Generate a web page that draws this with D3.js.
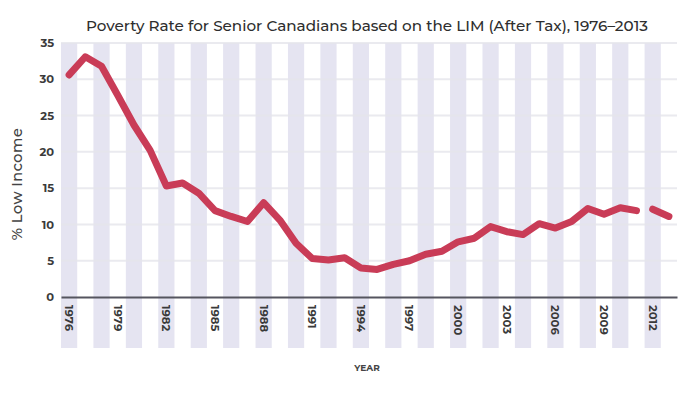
<!DOCTYPE html>
<html>
<head>
<meta charset="utf-8">
<script src="https://cdn.jsdelivr.net/npm/d3@7"></script>
<style>
  body { margin: 0; background: #fff; }
  text { font-family: "Montserrat", "Lato", "Open Sans", sans-serif; }
</style>
</head>
<body>
<script>
// years on the x axis
var years = d3.range(1976, 2014);
// % low income, first run 1976-2011, then 2012-2013 after the break
var yearsA = d3.range(1976, 2012);
var valuesA = [30.6, 33.1, 31.8, 27.8, 23.7, 20.2, 15.3, 15.7, 14.3, 11.9,
               11.1, 10.4, 13.0, 10.6, 7.4, 5.3, 5.1, 5.4, 4.0, 3.8,
               4.5, 5.0, 5.9, 6.3, 7.6, 8.1, 9.7, 9.0, 8.6, 10.1,
               9.5, 10.4, 12.2, 11.4, 12.3, 11.9];
var yearsB = [2012, 2013];
var valuesB = [12.1, 11.1];
var yTicks = [0, 5, 10, 15, 20, 25, 30, 35];
var xTicks = d3.range(1976, 2014, 3);

var width = 689, height = 393;
var plotLeft = 61, plotRight = 677, plotTop = 43, plotBottom = 297;

var svg = d3.select("body")
    .append("svg")
    .attr("width", width)
    .attr("height", height);

var x = d3.scaleBand().domain(years).range([plotLeft, plotRight]).padding(0);
var y = d3.scaleLinear().domain([0, 35]).range([plotBottom, plotTop]);
var bw = x.bandwidth();

// alternating lavender bands
svg.selectAll(".band")
    .data(years.filter(function(d, i) { return i % 2 == 0; }))
    .enter()
    .append("rect")
    .attr("class", "band")
    .attr("x", function(d) { return x(d); })
    .attr("y", plotTop)
    .attr("width", bw)
    .attr("height", 348 - plotTop)
    .attr("fill", "#e5e4f1");

// horizontal gridlines
svg.selectAll(".grid")
    .data(yTicks.filter(function(d) { return d > 0; }))
    .enter()
    .append("line")
    .attr("class", "grid")
    .attr("x1", plotLeft)
    .attr("x2", plotRight)
    .attr("y1", function(d) { return y(d); })
    .attr("y2", function(d) { return y(d); })
    .attr("stroke", "#e6e6ec")
    .attr("stroke-width", 2)
    .attr("opacity", 0.8);

// y axis labels
var yAxis = d3.axisLeft(y).tickValues(yTicks).tickSize(0).tickPadding(7);
var gy = svg.append("g")
    .attr("transform", "translate(" + plotLeft + ",0)")
    .call(yAxis);
gy.select(".domain").remove();
gy.selectAll("text")
    .attr("font-size", 11.5)
    .attr("font-weight", "bold")
    .attr("fill", "#3a3a3a")
    .style("font-family", "Montserrat, Lato, sans-serif");

// x axis baseline and rotated year labels
var xAxis = d3.axisBottom(x).tickValues(xTicks).tickSize(0);
var gx = svg.append("g")
    .attr("transform", "translate(0," + plotBottom + ")")
    .call(xAxis);
gx.select(".domain")
    .attr("stroke", "#55555f")
    .attr("stroke-width", 2);
gx.selectAll("text")
    .attr("transform", "rotate(90)")
    .attr("x", 8)
    .attr("y", 0)
    .attr("dy", "0.35em")
    .attr("text-anchor", "start")
    .attr("font-size", 11.5)
    .attr("font-weight", "bold")
    .attr("fill", "#3a3a3a")
    .style("font-family", "Montserrat, Lato, sans-serif");

// the line
var line = d3.line()
    .x(function(d) { return x(d[0]) + bw / 2; })
    .y(function(d) { return y(d[1]); });

[d3.zip(yearsA, valuesA), d3.zip(yearsB, valuesB)].forEach(function(seg) {
    svg.append("path")
        .datum(seg)
        .attr("d", line)
        .attr("fill", "none")
        .attr("stroke", "#c93c57")
        .attr("stroke-width", 7)
        .attr("stroke-linejoin", "round")
        .attr("stroke-linecap", "round");
});

// title
svg.append("text")
    .attr("x", 367)
    .attr("y", 31)
    .attr("text-anchor", "middle")
    .attr("font-size", 15.2)
    .attr("font-weight", 500)
    .attr("fill", "#2e2e2e")
    .text("Poverty Rate for Senior Canadians based on the LIM (After Tax), 1976\u20132013");

// y axis title
svg.append("text")
    .attr("transform", "translate(22,184) rotate(-90)")
    .attr("text-anchor", "middle")
    .attr("font-size", 14.5)
    .attr("font-weight", 500)
    .attr("fill", "#444")
    .attr("letter-spacing", 0.5)
    .text("% Low Income");

// x axis title
svg.append("text")
    .attr("x", 367)
    .attr("y", 371)
    .attr("text-anchor", "middle")
    .attr("font-size", 9)
    .attr("font-weight", "bold")
    .attr("fill", "#444")
    .text("YEAR");
</script>
</body>
</html>
